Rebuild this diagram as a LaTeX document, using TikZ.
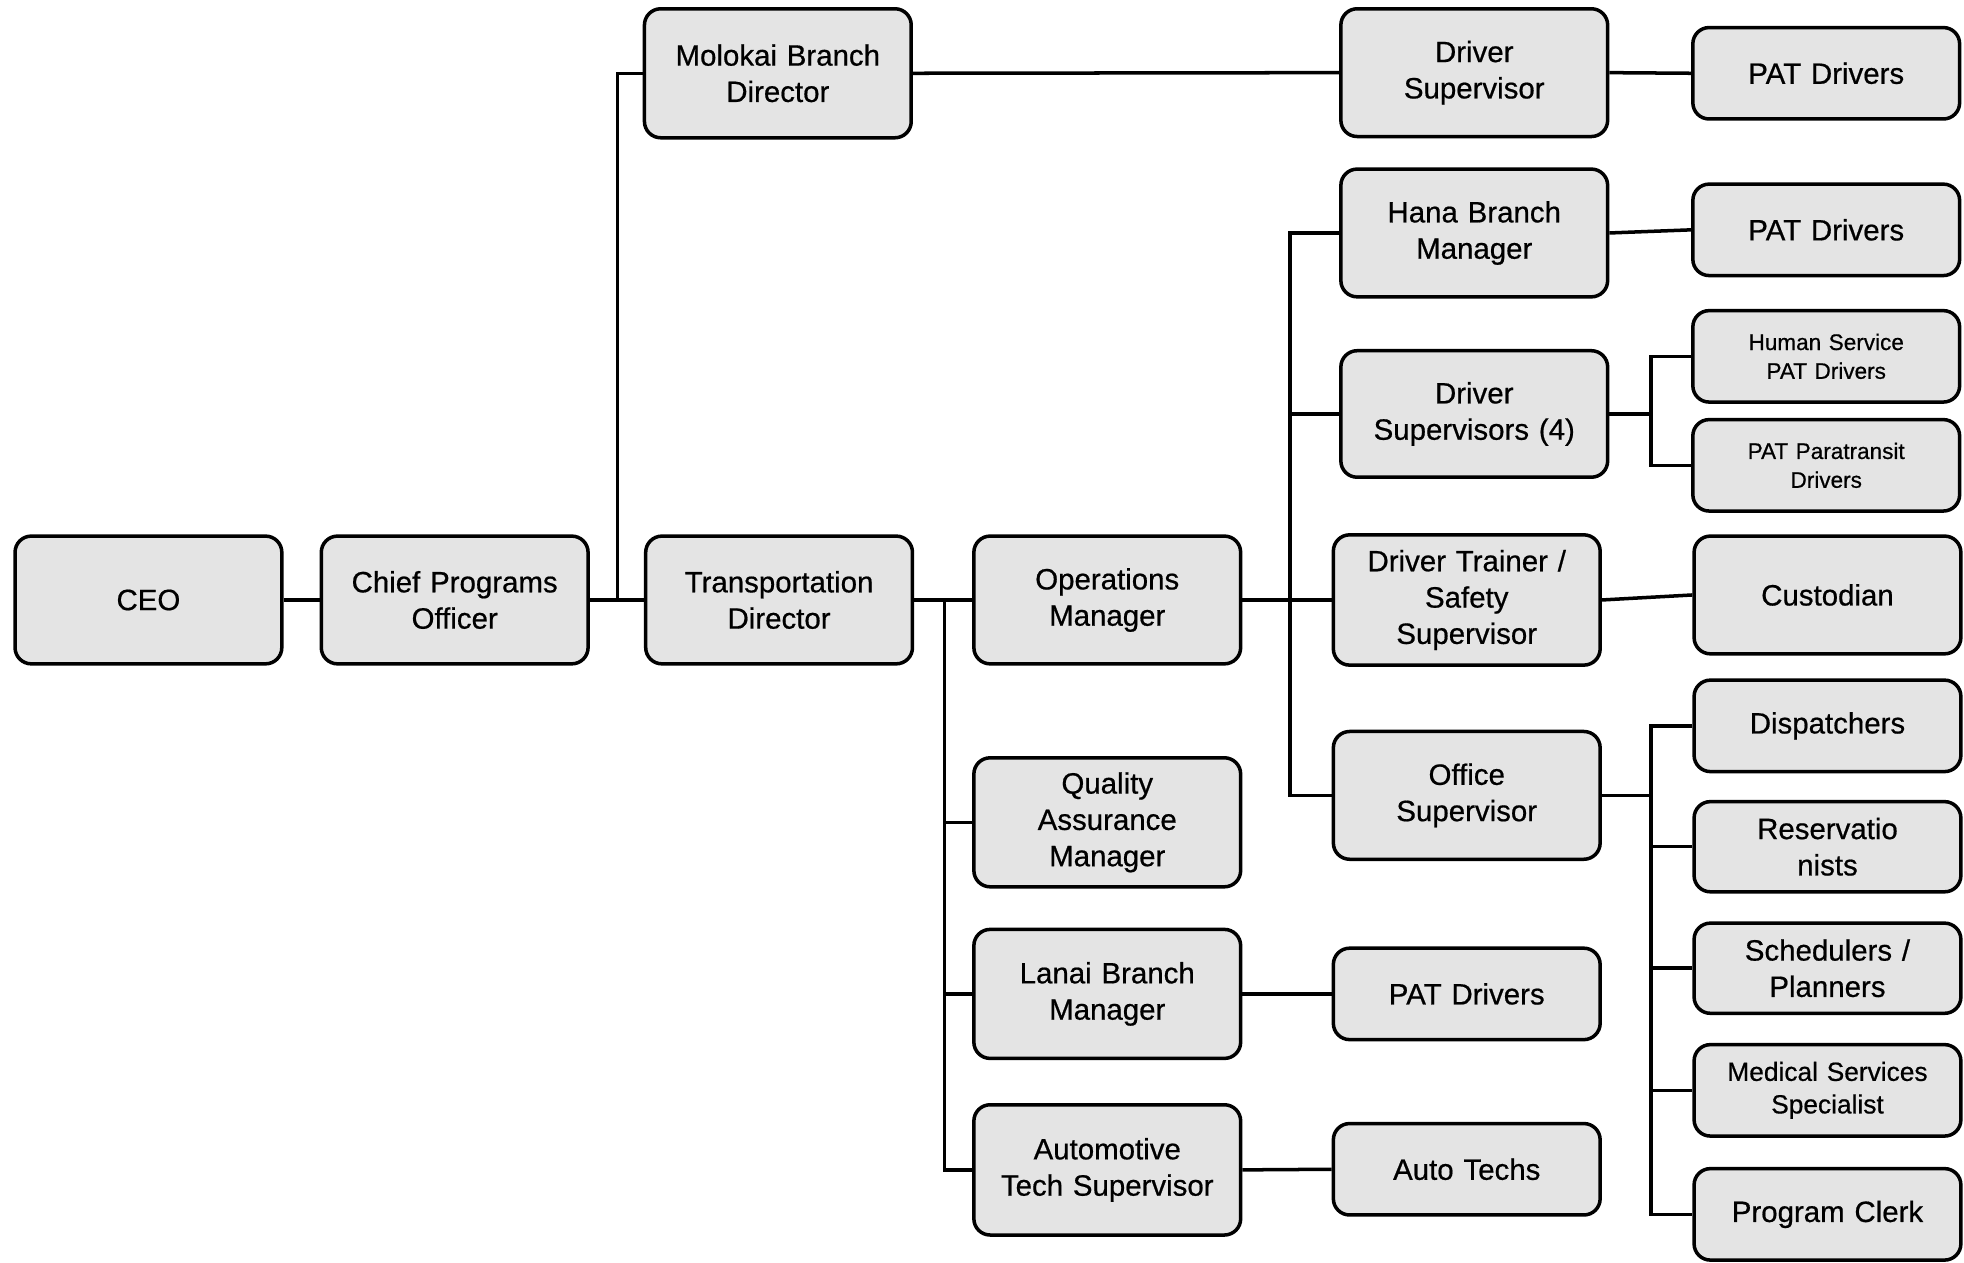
\documentclass[tikz,border=0pt]{standalone}
\usepackage{fontspec}
\setmainfont{Liberation Sans}[FakeBold=0.6]
\definecolor{boxgray}{RGB}{228,228,228}
\begin{document}
\begin{tikzpicture}[x=1pt,y=-1pt,
  box/.style={draw, line width=2.8pt, rounded corners=13pt, fill=boxgray,
    minimum width=213pt, text width=205pt, align=center, inner sep=0pt,
    font=\fontsize{23.5}{29}\selectfont},
  small/.style={font=\fontsize{18}{23}\selectfont},
  mid/.style={font=\fontsize{21}{26}\selectfont},
  conn/.style={line width=2.8pt}]
\useasboundingbox (0,0) rectangle (1568,1008);
% nodes
\node[box, minimum height=102pt] (ceo) at (118.5,479) {CEO};
\node[box, minimum height=102pt] (cpo) at (363,479) {Chief Programs\\Officer};
\node[box, minimum height=103pt] (mol) at (621,58.5) {Molokai Branch\\Director};
\node[box, minimum height=102pt] (td) at (622,479) {Transportation\\Director};
\node[box, minimum height=102pt] (om) at (884,479) {Operations\\Manager};
\node[box, minimum height=103pt] (qa) at (884,656.5) {Quality\\Assurance\\Manager};
\node[box, minimum height=103pt] (lanai) at (884,793.5) {Lanai Branch\\Manager};
\node[box, minimum height=104pt] (auto) at (884,934) {Automotive\\Tech Supervisor};
\node[box, minimum height=102pt] (ds) at (1177,58) {Driver\\Supervisor};
\node[box, minimum height=102pt] (hana) at (1177,186) {Hana Branch\\Manager};
\node[box, minimum height=101pt] (ds4) at (1177,330.5) {Driver\\Supervisors (4)};
\node[box, minimum height=104pt] (dt) at (1171,479) {Driver Trainer /\\Safety\\Supervisor};
\node[box, minimum height=102pt] (off) at (1171,635) {Office\\Supervisor};
\node[box, minimum height=73pt] (patl) at (1171,793.5) {PAT Drivers};
\node[box, minimum height=73pt] (autot) at (1171,933.5) {Auto Techs};
\node[box, minimum height=73pt] (pat1) at (1458,58.5) {PAT Drivers};
\node[box, minimum height=73pt] (pat2) at (1458,183.5) {PAT Drivers};
\node[box, small, minimum height=73pt] (hs) at (1458,284.5) {Human Service\\PAT Drivers};
\node[box, small, minimum height=73pt] (pp) at (1458,371.5) {PAT Paratransit\\Drivers};
\node[box, minimum height=94pt] (cust) at (1459,475) {Custodian};
\node[box, minimum height=73pt] (disp) at (1459,579.5) {Dispatchers};
\node[box, minimum height=72pt] (res) at (1459,676) {Reservatio\\nists};
\node[box, minimum height=72pt] (sch) at (1459,773) {Schedulers /\\Planners};
\node[box, mid, minimum height=73pt] (med) at (1459,870.5) {Medical Services\\Specialist};
\node[box, minimum height=73pt] (clerk) at (1459,969.5) {Program Clerk};
% junctions
\coordinate (j1) at (493,479);
\coordinate (j2) at (754,479);
\coordinate (j3) at (1030,479);
\coordinate (j4) at (1318,330.5);
\coordinate (j5) at (1318,635);
% connectors
\draw[conn] (ceo.east) -- (cpo.west);
\draw[conn] (cpo.east) -- (td.west);
\draw[conn] (j1) |- (mol.west);
\draw[conn] (mol.east) -- (ds.west);
\draw[conn] (ds.east) -- (pat1.west);
\draw[conn] (td.east) -- (om.west);
\draw[conn] (j2) |- (auto.west);
\draw[conn] (j2 |- qa.west) -- (qa.west);
\draw[conn] (j2 |- lanai.west) -- (lanai.west);
\draw[conn] (lanai.east) -- (patl.west);
\draw[conn] (auto.east) -- (autot.west);
\draw[conn] (om.east) -- (dt.west);
\draw[conn] (hana.west) -| (j3) |- (off.west);
\draw[conn] (j3 |- ds4.west) -- (ds4.west);
\draw[conn] (hana.east) -- (pat2.west);
\draw[conn] (ds4.east) -- (j4);
\draw[conn] (hs.west) -| (j4) |- (pp.west);
\draw[conn] (dt.east) -- (cust.west);
\draw[conn] (off.east) -- (j5);
\draw[conn] (disp.west) -| (j5) |- (clerk.west);
\draw[conn] (j5 |- res.west) -- (res.west);
\draw[conn] (j5 |- sch.west) -- (sch.west);
\draw[conn] (j5 |- med.west) -- (med.west);
\end{tikzpicture}
\end{document}
